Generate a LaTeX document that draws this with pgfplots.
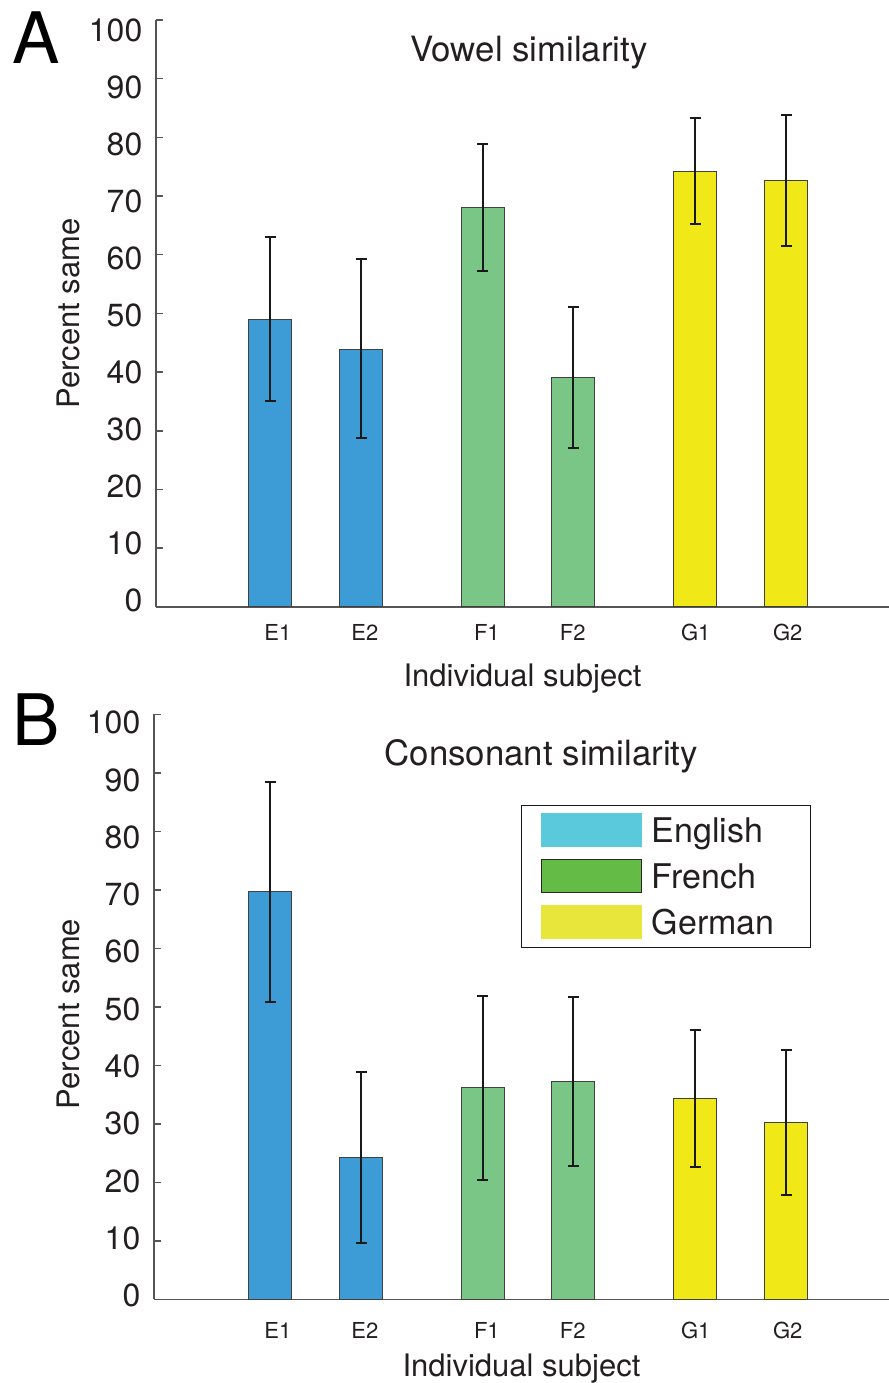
\documentclass[border=0pt]{standalone}
\usepackage{fontspec}
\setmainfont{TeX Gyre Heros}
\usepackage{pgfplots}
\pgfplotsset{compat=1.18}
\definecolor{txt}{HTML}{231F20}
\definecolor{engbar}{HTML}{3D9CD6}
\definecolor{frbar}{HTML}{7AC687}
\definecolor{gebar}{HTML}{F0E817}
\definecolor{englg}{HTML}{5BC9DC}
\definecolor{frlg}{HTML}{64BB46}
\definecolor{gelg}{HTML}{E8E63A}
\definecolor{axc}{HTML}{555555}

\pgfplotsset{
  panel/.style={
    scale only axis,
    anchor=south west,
    ymin=0, ymax=100,
    ytick={0,10,...,100},
    axis x line=bottom, axis y line=left,
    axis line style={-, draw=axc, line width=0.8pt},
    tick align=inside,
    major tick length=3.5pt,
    ytick style={draw=axc, line width=0.8pt},
    xtick style={draw=none},
    xtick={1.082,2.038,3.379,4.324,5.676,6.687},
    xticklabels={E1,E2,F1,F2,G1,G2},
    /pgf/number format/assume math mode=true,
    yticklabel style={font=\fontsize{16}{18}\selectfont, text=txt, anchor=east, inner sep=0pt, xshift=-6.65pt},
    xticklabel style={font=\fontsize{11}{12}\selectfont, text=txt, anchor=base, inner sep=0pt},
    ylabel={Percent same},
    xlabel={Individual subject},
    label style={font=\fontsize{15.5}{18}\selectfont, text=txt, inner sep=0pt},
    title style={font=\fontsize{17.4}{20}\selectfont, text=txt, anchor=base, inner sep=0pt, yshift=-6pt},
    ybar, bar width=21.5pt, bar shift=0pt,
    every axis plot/.append style={draw=black!75, line width=0.5pt},
    error bars/y dir=both, error bars/y explicit,
    error bars/error bar style={black!90, line width=1pt},
    error bars/error mark options={black!90, line width=1pt, mark size=2.7pt, rotate=90},
    clip=false,
  }
}

\begin{document}
\begin{tikzpicture}
\useasboundingbox (0pt,0pt) rectangle (444.5pt,-691.5pt);

\node[anchor=base west, inner sep=0pt, text=black, font=\fontsize{35.5}{40}\selectfont] at (6pt,-31.7pt) {A};
\node[anchor=base west, inner sep=0pt, text=black, font=\fontsize{35.5}{40}\selectfont] at (6pt,-372.5pt) {B};

% Panel A
\begin{axis}[panel,
  at={(78pt,-303.35pt)}, width=366.5pt, height=293.35pt,
  xmin=-0.258, xmax=7.80,
  title={Vowel similarity},
  title style={at={(axis description cs:0.509,0.929)}},
  yticklabel style={yshift={(3.25-0.825*\ticknum)*1pt}},
  xticklabel style={yshift=-13.6pt},
  xlabel style={at={(axis description cs:0.5,0)}, anchor=base, yshift=-40pt},
  ylabel style={at={(axis description cs:-0.1046,0.5)}, anchor=base},
]
\addplot[fill=engbar, forget plot] coordinates {
  (1,49.0) += (0,14.0) -= (0,14.0)
  (2,43.9) += (0,15.3) -= (0,15.2)
};
\addplot[fill=frbar, forget plot] coordinates {
  (3.335,68.1) += (0,10.8) -= (0,10.8)
  (4.33,39.0) += (0,12.0) -= (0,11.9)
};
\addplot[fill=gebar, forget plot] coordinates {
  (5.67,74.1) += (0,9.2) -= (0,8.9)
  (6.67,72.6) += (0,11.2) -= (0,11.1)
};
\end{axis}

% Panel B
\begin{axis}[panel,
  at={(77pt,-649.7pt)}, width=367.5pt, height=292.5pt,
  xmin=-0.280, xmax=7.80,
  title={Consonant similarity},
  title style={at={(axis description cs:0.527,0.9135)}},
  yticklabel style={yshift={(1.9-0.6*\ticknum)*1pt}},
  xticklabel style={yshift=-16.2pt},
  xlabel style={at={(axis description cs:0.5,0)}, anchor=base, yshift=-38.6pt},
  ylabel style={at={(axis description cs:-0.1007,0.488)}, anchor=base},
  legend style={at={(axis description cs:0.499,0.846)}, anchor=north west,
    draw=black!90, line width=0.7pt, fill=white,
    inner xsep=9.65pt, inner ysep=4.1pt, row sep=5.9pt, column sep=5pt,
    font=\fontsize{17}{20}\selectfont, text=txt,
    nodes={inner sep=0pt, text height=12.5pt, text depth=0pt, text width=69.5pt},
    cells={anchor=west}},
  legend cell align=left,
]
\addplot[fill=engbar, forget plot] coordinates {
  (1,69.7) += (0,18.8) -= (0,18.8)
  (2,24.2) += (0,14.7) -= (0,14.6)
};
\addplot[fill=frbar, forget plot] coordinates {
  (3.335,36.2) += (0,15.7) -= (0,15.8)
  (4.33,37.2) += (0,14.5) -= (0,14.4)
};
\addplot[fill=gebar, forget plot] coordinates {
  (5.67,34.4) += (0,11.7) -= (0,11.7)
  (6.67,30.2) += (0,12.4) -= (0,12.4)
};
\addlegendimage{legend image code/.code={\fill[englg] (0pt,-8.25pt) rectangle (50pt,8.25pt);}}
\addlegendentry{English}
\addlegendimage{legend image code/.code={\filldraw[fill=frlg, draw=black!85, line width=0.6pt] (0pt,-8.25pt) rectangle (50pt,8.25pt);}}
\addlegendentry{French}
\addlegendimage{legend image code/.code={\fill[gelg] (0pt,-8.25pt) rectangle (50pt,8.25pt);}}
\addlegendentry{German}
\end{axis}
\end{tikzpicture}
\end{document}
